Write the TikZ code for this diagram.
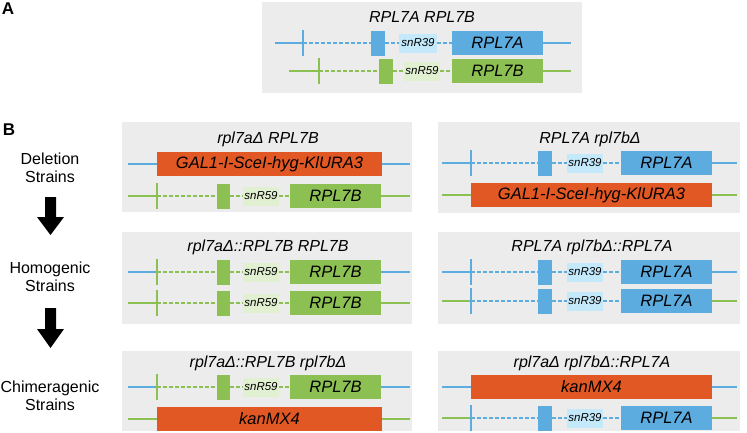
\documentclass[tikz,border=0pt]{standalone}
\usepackage{fontspec}
\setmainfont{Liberation Sans}
\definecolor{gblue}{RGB}{92,172,224}
\definecolor{lblue}{RGB}{196,233,251}
\definecolor{ggreen}{RGB}{140,192,82}
\definecolor{lgreen}{RGB}{226,240,210}
\definecolor{orng}{RGB}{226,88,36}
\definecolor{panelgray}{RGB}{236,236,236}

\newcommand\setgeom[9]{\def\qqS{#1}\def\qqT{#2}\def\qqEA{#3}\def\qqEB{#4}\def\qqNA{#5}\def\qqNB{#6}\def\qqGA{#7}\def\qqGB{#8}\def\qqF{#9}}

\tikzset{
  panel/.style={fill=panelgray, draw=none},
  solidline/.style={line width=2.2pt},
  dashline/.style={line width=1.3pt, dash pattern=on 3.5pt off 2.5pt},
  tickline/.style={line width=1.5pt},
  exon/.style={rectangle, inner sep=0pt, outer sep=0pt, minimum height=25pt},
  genebox/.style={rectangle, inner sep=0pt, outer sep=0pt, minimum height=24pt, font=\fontsize{16.5}{18}\selectfont\itshape},
  snbox/.style={rectangle, inner sep=0pt, outer sep=0pt, minimum height=19pt, font=\fontsize{11.5}{13}\selectfont\itshape},
  delbox/.style={rectangle, inner sep=0pt, outer sep=0pt, minimum height=24pt, fill=orng, font=\fontsize{16.5}{18}\selectfont\itshape},
  titletext/.style={font=\fontsize{16}{18}\selectfont\itshape},
  sidetext/.style={align=center, font=\fontsize{16}{18}\selectfont},
  paneltag/.style={font=\fontsize{17}{17}\selectfont\bfseries},
}

% #1 name, #2 y, #3 outer line colour, #4 gene colour, #5 snR fill, #6 snR label, #7 gene label
\newcommand\generow[7]{%
  \coordinate (#1s) at (\qqS,#2);
  \coordinate (#1t) at (\qqT,#2);
  \coordinate (#1tu) at (\qqT,{#2-13});
  \coordinate (#1td) at (\qqT,{#2+13});
  \coordinate (#1f) at (\qqF,#2);
  \node[exon,fill=#4,minimum width={\qqEB-\qqEA}] (#1e) at ({(\qqEA+\qqEB)/2},#2) {};
  \node[snbox,fill=#5,minimum width={\qqNB-\qqNA}] (#1n) at ({(\qqNA+\qqNB)/2},#2) {#6};
  \node[genebox,fill=#4,minimum width={\qqGB-\qqGA}] (#1g) at ({(\qqGA+\qqGB)/2},#2) {#7};
  \draw[solidline,#3] (#1s) -- (#1t);
  \draw[solidline,#3] (#1g.east) -- (#1f);
  \draw[tickline,#4] (#1tu) -- (#1td);
  \draw[dashline,#4] (#1t) -- (#1e.west) (#1e.east) -- (#1n.west) (#1n.east) -- (#1g.west);
}
% #1 name, #2 y, #3 line colour, #4 box left, #5 box right, #6 label
\newcommand\delrow[6]{%
  \coordinate (#1s) at (\qqS,#2);
  \coordinate (#1f) at (\qqF,#2);
  \node[delbox,minimum width={#5-#4}] (#1o) at ({(#4+#5)/2},#2) {#6};
  \draw[solidline,#3] (#1s) -- (#1o.west) (#1o.east) -- (#1f);
}

\begin{document}
\begin{tikzpicture}[x=1pt,y=-1pt]
\useasboundingbox (0,0) rectangle (747,432);

% panel tags
\node[paneltag] (tagA) at (8,9) {A};
\node[paneltag] (tagB) at (9,130) {B};

% gray panels
\fill[panel] (262,2) rectangle (582,93);
\fill[panel] (122,122) rectangle (412,212);
\fill[panel] (438,122) rectangle (740,213);
\fill[panel] (122,232) rectangle (412,324);
\fill[panel] (438,232) rectangle (740,324);
\fill[panel] (122,351) rectangle (412,431);
\fill[panel] (438,351) rectangle (740,431);

% ---------- Panel A ----------
\node[titletext] (tA) at (422,17) {RPL7A RPL7B};
\setgeom{275}{303}{371}{385}{399}{437}{452}{543}{571}
\generow{aa}{43}{gblue}{gblue}{lblue}{snR39}{RPL7A}
\setgeom{289}{319}{379}{393}{404}{440}{452}{543}{571}
\generow{ab}{71}{ggreen}{ggreen}{lgreen}{snR59}{RPL7B}

% ---------- Panel B, left column ----------
\setgeom{128}{157}{217}{230}{243}{279}{290}{381}{410}
\node[titletext] (t1) at (268,139) {rpl7aΔ RPL7B};
\delrow{l1a}{164}{gblue}{157}{382}{GAL1-I-SceI-hyg-KlURA3}
\generow{l1b}{196}{ggreen}{ggreen}{lgreen}{snR59}{RPL7B}

\node[titletext] (t2) at (268,247) {rpl7aΔ::RPL7B RPL7B};
\generow{l2a}{272}{gblue}{ggreen}{lgreen}{snR59}{RPL7B}
\generow{l2b}{303}{ggreen}{ggreen}{lgreen}{snR59}{RPL7B}

\node[titletext] (t3) at (268,363) {rpl7aΔ::RPL7B rpl7bΔ};
\generow{l3a}{387}{gblue}{ggreen}{lgreen}{snR59}{RPL7B}
\delrow{l3b}{419}{ggreen}{157}{382}{kanMX4}

% ---------- Panel B, right column ----------
\setgeom{442}{471}{538}{552}{567}{603}{621}{712}{737}
\node[titletext] (t4) at (590,139) {RPL7A rpl7bΔ};
\generow{r1a}{163}{gblue}{gblue}{lblue}{snR39}{RPL7A}
\delrow{r1b}{195}{ggreen}{471}{712}{GAL1-I-SceI-hyg-KlURA3}

\node[titletext] (t5) at (592,247) {RPL7A rpl7bΔ::RPL7A};
\generow{r2a}{272}{gblue}{gblue}{lblue}{snR39}{RPL7A}
\generow{r2b}{301}{ggreen}{gblue}{lblue}{snR39}{RPL7A}

\node[titletext] (t6) at (592,363) {rpl7aΔ rpl7bΔ::RPL7A};
\delrow{r3a}{387}{gblue}{471}{712}{kanMX4}
\generow{r3b}{418}{ggreen}{gblue}{lblue}{snR39}{RPL7A}

% ---------- side labels and arrows ----------
\node[sidetext] (s1) at (50,168) {Deletion\\Strains};
\node[sidetext] (s2) at (50,277) {Homogenic\\Strains};
\node[sidetext] (s3) at (50,396) {Chimeragenic\\Strains};
\coordinate (ar1) at (50.5,197);
\coordinate (ar2) at (50.5,308);
\fill (ar1) ++(-5.5,0) -- ++(11,0) -- ++(0,20) -- ++(8,0) -- ++(-13.5,18) -- ++(-13.5,-18) -- ++(8,0) -- cycle;
\fill (ar2) ++(-5.5,0) -- ++(11,0) -- ++(0,21) -- ++(8,0) -- ++(-13.5,19) -- ++(-13.5,-19) -- ++(8,0) -- cycle;
\end{tikzpicture}
\end{document}
